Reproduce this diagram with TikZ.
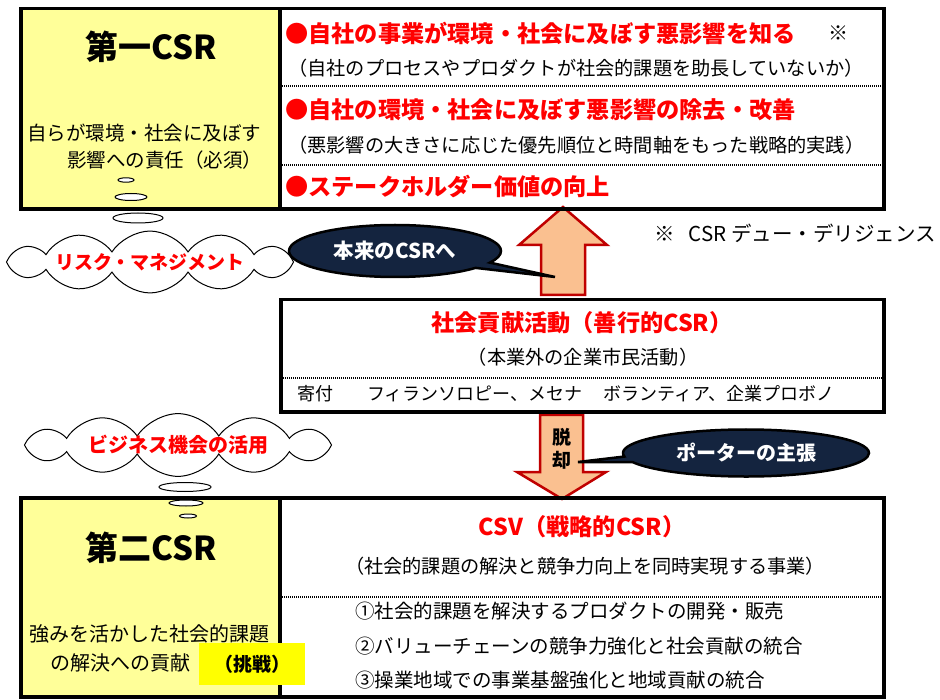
\documentclass[tikz,border=0pt]{standalone}
\usepackage{fontspec}
\setmainfont{Noto Sans CJK JP}
\usetikzlibrary{shapes.symbols,shapes.callouts,shapes.geometric}
\definecolor{cred}{RGB}{255,0,0}
\definecolor{navy}{RGB}{20,36,63}
\definecolor{peach}{RGB}{250,192,144}
\definecolor{darkred}{RGB}{192,0,0}
\definecolor{lyellow}{RGB}{255,255,153}
\definecolor{hyellow}{RGB}{255,255,0}
\newcommand{\fs}[1]{\fontsize{#1}{#1}\selectfont}
\begin{document}
\begin{tikzpicture}[x=1pt,y=-1pt,
  box/.style={line width=3.5pt},
  sep/.style={line width=1.3pt, dash pattern=on 1pt off 1pt},
  redt/.style={text=cred, font=\fs{23.2}\bfseries, inner sep=0pt},
  subt/.style={font=\fs{19.2}, inner sep=0pt},
  bigt/.style={font=\fs{33}\bfseries, inner sep=0pt},
  leftt/.style={font=\fs{19.5}, inner sep=0pt, anchor=west},
  barrow/.style={fill=peach, draw=darkred, line width=2.5pt, line join=miter},
  bub/.style={draw=black, fill=white, line width=1pt},
  cloudy/.style={shape=cloud, cloud puffs=12, cloud puff arc=115, cloud ignores aspect,
    draw=black, fill=white, line width=1pt, text=cred, font=\fs{19}\bfseries, inner sep=0pt},
  callbox/.style={shape=ellipse callout, fill=navy, draw=black, line width=2.5pt,
    text=white, font=\fs{20.5}\bfseries, inner sep=0pt, callout pointer arc=14}
]
\fill[white] (0,0) rectangle (940,700);
\useasboundingbox (0,0) rectangle (940,700);

% block arrows
\draw[barrow] (541,295) -- (541,245) -- (519,245) -- (563,207) -- (607,245) -- (585,245) -- (585,295) -- cycle;
\draw[barrow] (540,415) -- (540,472) -- (517,472) -- (562,499) -- (606,472) -- (583,472) -- (583,415) -- cycle;

% top box
\fill[lyellow] (21,8.5) rectangle (280,209);
\draw[box] (21,8.5) rectangle (884,209);
\draw[box] (280,8.5) -- (280,209);
\draw[sep] (282,86) -- (882,86);
\draw[sep] (282,165) -- (882,165);

% middle box
\fill[white] (281,299.5) rectangle (884,412);
\draw[box] (281,299.5) rectangle (884,412);
\draw[sep] (283,378) -- (882,378);

% bottom box
\fill[lyellow] (21,498) rectangle (280,697);
\draw[box] (21,498) rectangle (884,697);
\draw[box] (280,498) -- (280,697);
\draw[sep] (282,597) -- (882,597);

% top texts
\node[bigt] (first) at (151,47) {第一CSR};
\node[leftt] (firstA) at (27,133) {自らが環境・社会に及ぼす};
\node[leftt] (firstB) at (67,160) {影響への責任（必須）};
\node[redt, anchor=west] (t1) at (285,33) {●自社の事業が環境・社会に及ぼす悪影響を知る};
\node[subt, anchor=west, font=\fs{20}] (kome) at (828,33) {※};
\node[subt, anchor=west] (t2) at (288,68) {（自社のプロセスやプロダクトが社会的課題を助長していないか）};
\node[redt, anchor=west] (t3) at (285,110) {●自社の環境・社会に及ぼす悪影響の除去・改善};
\node[subt, anchor=west] (t4) at (288,145) {（悪影響の大きさに応じた優先順位と時間軸をもった戦略的実践）};
\node[redt, anchor=west] (t5) at (285,187) {●ステークホルダー価値の向上};

% middle texts
\node[redt] (m1) at (582,323) {社会貢献活動（善行的CSR）};
\node[subt] (m2) at (583,357) {（本業外の企業市民活動）};
\node[subt, anchor=west, font=\fs{18}] (m3) at (297,394) {寄付\hspace{34pt}フィランソロピー、メセナ\hspace{21pt}ボランティア、企業プロボノ};

% bottom texts
\node[bigt] (second) at (151,548) {第二CSR};
\node[leftt, font=\fs{20}] (secA) at (29,634) {強みを活かした社会的課題};
\node[leftt, font=\fs{20}] (secB) at (50,663) {の解決への貢献};
\node[fill=hyellow, minimum width=106pt, minimum height=42pt, inner sep=0pt, font=\fs{19}\bfseries] (chosen) at (252,664) {（挑戦）};
\node[redt] (b1) at (582,527) {CSV（戦略的CSR）};
\node[subt] (b2) at (585,566) {（社会的課題の解決と競争力向上を同時実現する事業）};
\node[leftt] (b3) at (355,611) {①社会的課題を解決するプロダクトの開発・販売};
\node[leftt] (b4) at (355,646) {②バリューチェーンの競争力強化と社会貢献の統合};
\node[leftt] (b5) at (355,680) {③操業地域での事業基盤強化と地域貢献の統合};

% note
\node[anchor=west, font=\fs{20.5}, inner sep=0pt] (note) at (654,233) {※\hspace{14pt}CSR デュー・デリジェンス};

% arrow label
\node[font=\fontsize{19}{23}\selectfont\bfseries, align=center, inner sep=0pt] (datsu) at (562,449) {脱\\却};

% thought bubbles
\draw[bub] (126,180) ellipse [x radius=8pt, y radius=2.2pt];
\draw[bub] (131,197) ellipse [x radius=16pt, y radius=3.5pt];
\draw[bub] (138,218) ellipse [x radius=25pt, y radius=5pt];
\draw[bub] (185,487) ellipse [x radius=26pt, y radius=4.5pt];
\draw[bub] (186,503) ellipse [x radius=17pt, y radius=3pt];
\draw[bub] (188,516) ellipse [x radius=8.5pt, y radius=2pt];

% clouds
\node[cloudy, minimum width=287pt, minimum height=60pt] (risk) at (150,262) {リスク・マネジメント};
\node[cloudy, minimum width=307pt, minimum height=58pt, font=\fs{20}\bfseries] (biz) at (178,445) {ビジネス機会の活用};

% callouts
\coordinate (tipA) at (555,277);
\coordinate (tipB) at (578,462);
\node[callbox, minimum width=212pt, minimum height=52pt, callout absolute pointer=(tipA)] (honrai) at (395,251) {本来のCSRへ};
\node[callbox, minimum width=246pt, minimum height=47pt, callout absolute pointer=(tipB), font=\fs{20}\bfseries] (porter) at (746,453) {ポーターの主張};
\end{tikzpicture}
\end{document}
